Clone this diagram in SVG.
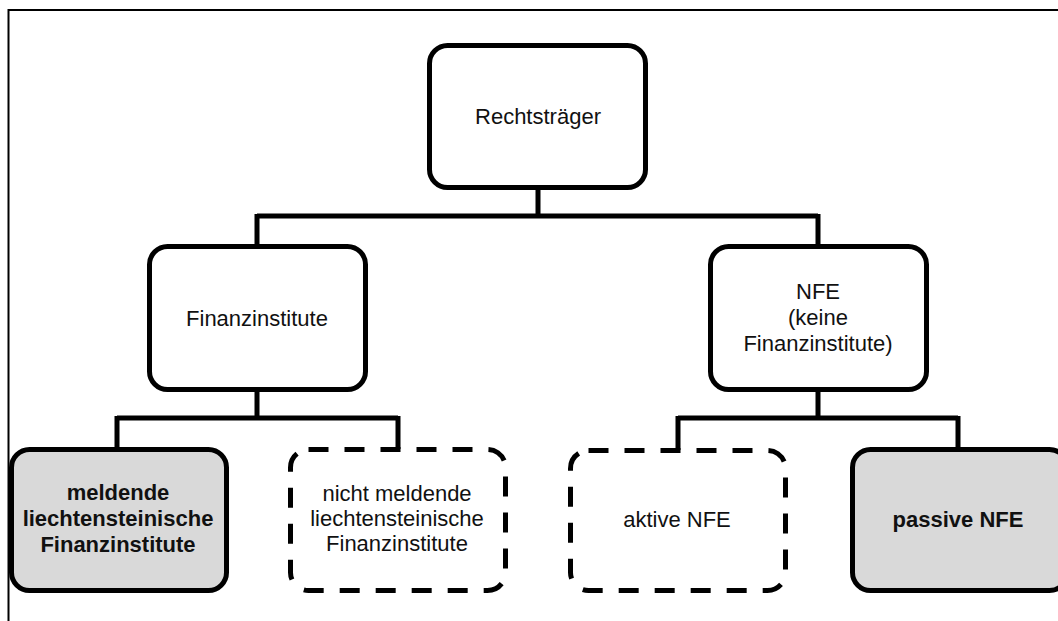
<svg xmlns="http://www.w3.org/2000/svg" width="1058" height="621" viewBox="0 0 1058 621">
<style>
.box{fill:#ffffff;stroke:#000;stroke-width:5}
.grey{fill:#d9d9d9}
.dash{stroke-dasharray:20 16}
.t{font-family:"Liberation Sans",Arial,sans-serif;font-size:22px;fill:#111;text-anchor:middle}
.b{font-weight:bold}
.c{fill:none;stroke:#000;stroke-width:5}
.frame{fill:none;stroke:#000;stroke-width:2}
</style>
<rect width="1058" height="621" fill="#fff"/>
<path class="frame" d="M8.5 621 V10 H1058"/>
<g id="connectors">
<path class="c" d="M538 188 V216 M257 216 H818 M257 214 V246 M818 214 V246"/>
<path class="c" d="M257 390 V418 M117 418 H398 M117 416 V449 M398 416 V449"/>
<path class="c" d="M818 390 V418 M678 418 H958 M678 416 V450 M958 416 V449"/>
</g>
<g id="rechtstraeger">
<rect class="box" x="429.5" y="45.5" width="216" height="142" rx="18"/>
<text class="t" x="538" y="124">Rechtsträger</text>
</g>
<g id="finanzinstitute">
<rect class="box" x="149.5" y="246.5" width="216" height="143" rx="18"/>
<text class="t" x="257" y="326">Finanzinstitute</text>
</g>
<g id="nfe">
<rect class="box" x="710.5" y="246.5" width="216" height="143" rx="18"/>
<text class="t" x="818" y="299">NFE</text>
<text class="t" x="818" y="325">(keine</text>
<text class="t" x="818" y="351">Finanzinstitute)</text>
</g>
<g id="meldende">
<rect class="box grey" x="11.5" y="449.5" width="215" height="141" rx="18"/>
<text class="t b" x="118" y="500">meldende</text>
<text class="t b" x="118" y="526">liechtensteinische</text>
<text class="t b" x="118" y="552">Finanzinstitute</text>
</g>
<g id="nicht-meldende">
<rect class="box dash" x="290.5" y="449.5" width="215" height="141" rx="18"/>
<text class="t" x="397" y="501">nicht meldende</text>
<text class="t" x="397" y="526">liechtensteinische</text>
<text class="t" x="397" y="551">Finanzinstitute</text>
</g>
<g id="aktive-nfe">
<rect class="box dash" x="570.5" y="450.5" width="215" height="140" rx="18"/>
<text class="t" x="677" y="527">aktive NFE</text>
</g>
<g id="passive-nfe">
<rect class="box grey" x="852.5" y="449.5" width="215" height="141" rx="18"/>
<text class="t b" x="958" y="527">passive NFE</text>
</g>
</svg>
